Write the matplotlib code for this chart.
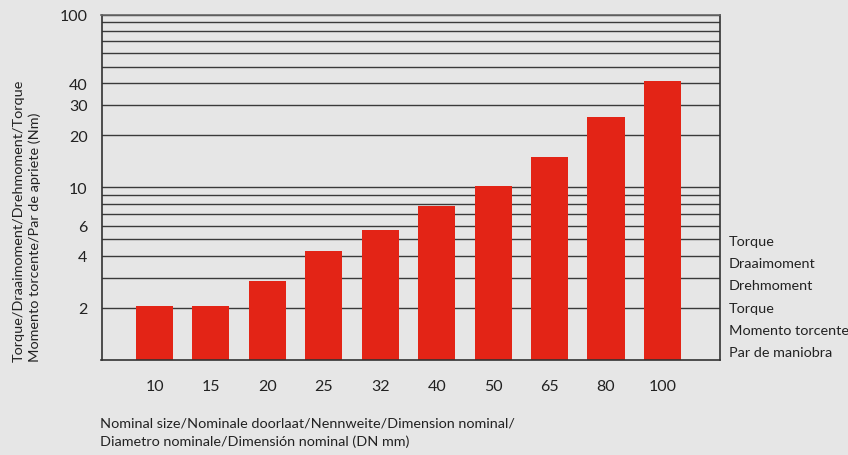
import matplotlib
matplotlib.use("Agg")
import matplotlib.pyplot as plt
import numpy as np

# nominal sizes (DN mm) and torque values (Nm)
sizes = ["10", "15", "20", "25", "32", "40", "50", "65", "80", "100"]
torque = [2.05, 2.05, 2.85, 4.3, 5.65, 7.8, 10.2, 15.0, 25.5, 41.2]

y_ticks = [2, 4, 6, 10, 20, 30, 40, 100]
grid_vals = [2, 3, 4, 5, 6, 7, 8, 9, 10, 20, 30, 40, 50, 60, 70, 80, 90, 100]
legend_lines = ["Torque", "Draaimoment", "Drehmoment", "Torque",
                "Momento torcente", "Par de maniobra"]

plt.rcParams["font.family"] = ["Lato", "DejaVu Sans"]

bg = "#e6e6e6"
red = "#e32416"
txt = "#222222"

fig = plt.figure(figsize=(8.48, 4.56), dpi=100, facecolor=bg)
ax = fig.add_axes([101.5 / 848, 1 - 361 / 456, (720 - 101.5) / 848, (361 - 15.5) / 456])
ax.set_facecolor(bg)

x = np.arange(len(sizes))
ax.set_yscale("log")
ax.set_ylim(1, 100)
ax.set_xlim(-0.94, 10.02)

for g in grid_vals:
    ax.axhline(g, color="#3a3a3a", lw=1.0, zorder=1)

ax.bar(x, torque, width=0.656, color=red, zorder=2)

ax.set_xticks(x)
ax.set_xticklabels(sizes, fontsize=11.5, color=txt)
ax.set_yticks(y_ticks)
ax.set_yticklabels([str(v) for v in y_ticks], fontsize=11.5, color=txt)
ax.yaxis.set_minor_locator(matplotlib.ticker.NullLocator())
ax.tick_params(axis="both", length=0)
ax.tick_params(axis="x", pad=14)
ax.tick_params(axis="y", pad=10)

for side in ["top", "left", "right", "bottom"]:
    ax.spines[side].set_color("#333333")
    ax.spines[side].set_linewidth(1.2)
ax.spines["top"].set_color("#666666")

fig.text(27 / 848, 1 - 362 / 456,
         "Torque/Draaimoment/Drehmoment/Torque\nMomento torcente/Par de apriete (Nm)",
         rotation=90, ha="center", va="bottom", multialignment="left",
         fontsize=10.4, color=txt, linespacing=1.35)

fig.text(100 / 848, 1 - 433 / 456,
         "Nominal size/Nominale doorlaat/Nennweite/Dimension nominal/\n"
         "Diametro nominale/Dimensión nominal (DN mm)",
         ha="left", va="center", fontsize=10.4, color=txt, linespacing=1.55)

for i, line in enumerate(legend_lines):
    fig.text(729 / 848, 1 - (242 + i * 22.2) / 456, line,
             ha="left", va="center", fontsize=10.4, color=txt)

fig.savefig("out.png", dpi=100, facecolor=bg)
